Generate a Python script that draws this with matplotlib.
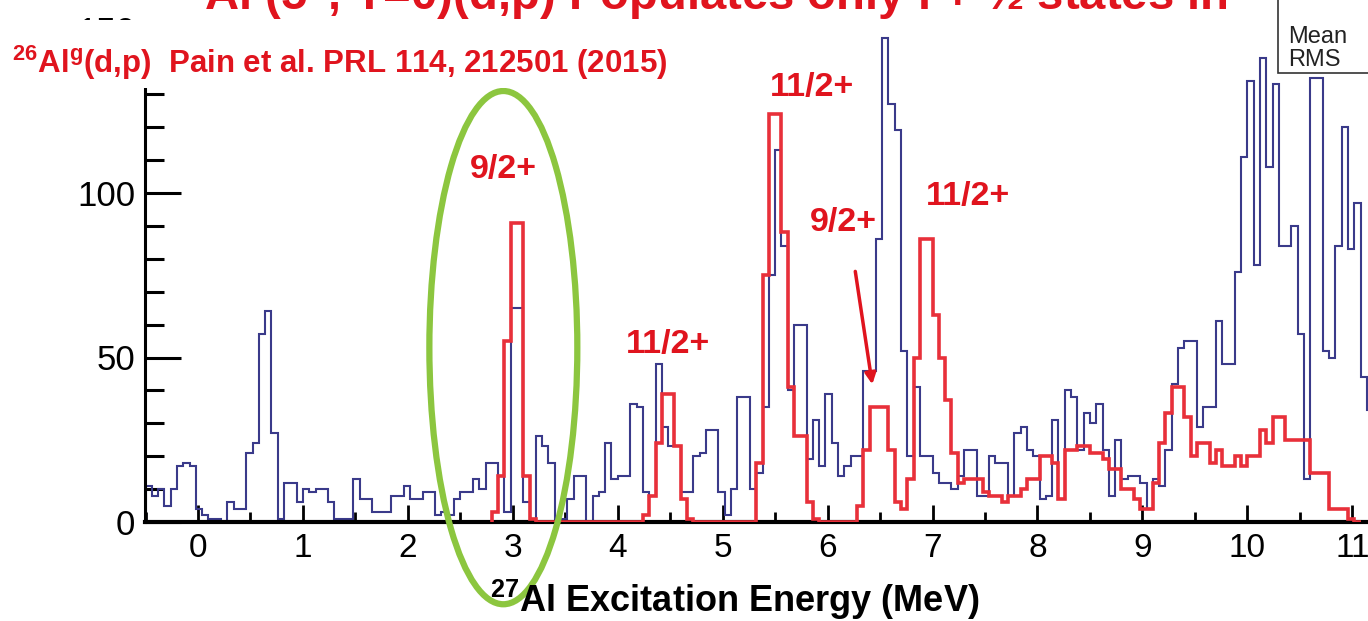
import numpy as np
import matplotlib.pyplot as plt
from matplotlib.patches import Ellipse, Rectangle
from matplotlib.ticker import MultipleLocator

# --- dati (conteggi per bin da 0.06 MeV) ---
bin_width = 0.06
blue_start = -0.5
blue_counts = [
    11, 8, 10, 5, 10, 17, 18, 17, 4, 2, 1, 1, 0, 6, 4, 4, 21, 24, 57, 64,
    27, 1, 12, 12, 6, 10, 9, 10, 10, 6, 1, 1, 1, 13, 7, 7, 3, 3, 3, 8,
    8, 11, 7, 7, 9, 9, 2, 3, 2, 7, 9, 9, 13, 10, 18, 18, 14, 3, 65, 65,
    6, 1, 26, 23, 18, 0, 1, 7, 14, 14, 0, 8, 9, 24, 13, 14, 14, 36, 35, 9,
    8, 48, 29, 23, 23, 9, 9, 20, 21, 28, 28, 9, 2, 10, 38, 38, 10, 15, 35, 75,
    113, 84, 40, 60, 60, 19, 31, 17, 39, 24, 14, 17, 20, 20, 46, 46, 86, 147, 127, 119,
    52, 20, 41, 20, 20, 15, 12, 12, 10, 14, 22, 22, 8, 8, 20, 18, 18, 8, 27, 29,
    22, 20, 7, 8, 31, 7, 40, 38, 22, 33, 30, 36, 22, 8, 25, 13, 14, 14, 12, 4,
    13, 11, 22, 42, 53, 55, 55, 29, 35, 35, 61, 48, 48, 76, 111, 134, 78, 141, 108, 133,
    84, 84, 90, 57, 13, 135, 135, 52, 50, 84, 120, 83, 97, 44, 34,
]

red_start = 2.80
red_counts = [
    3, 14, 55, 91, 91, 14, 1, 0, 0, 0, 0, 0, 0, 0, 0, 0, 0, 0, 0, 0,
    0, 0, 0, 0, 2, 8, 24, 39, 39, 23, 7, 1, 0, 0, 0, 0, 0, 0, 0, 0,
    0, 0, 18, 75, 124, 124, 88, 41, 26, 26, 6, 1, 0, 0, 0, 0, 0, 0, 5, 22,
    35, 35, 35, 22, 6, 4, 13, 50, 86, 86, 63, 50, 37, 21, 12, 13, 13, 13, 9, 8,
    8, 6, 8, 8, 10, 13, 13, 20, 20, 18, 7, 22, 22, 23, 23, 21, 21, 19, 16, 16,
    10, 10, 7, 4, 4, 12, 24, 33, 41, 41, 32, 20, 24, 24, 18, 22, 17, 17, 20, 17,
    20, 20, 28, 24, 32, 32, 25, 25, 25, 25, 15, 15, 15, 4, 4, 4, 1, 0,
]

# etichette degli stati (energia MeV, conteggi)
state_labels = ['9/2+', '11/2+', '11/2+', '9/2+', '11/2+']
state_x = [2.91, 5.85, 4.48, 6.15, 7.34]
state_y = [107, 132, 54, 91, 99]

x_ticks = list(range(0, 12))
y_ticks = [0, 50, 100, 150]

BLU = '#3a3a8a'
ROSSO = '#e8303a'
ROSSO_TXT = '#e0141e'
VERDE = '#8cc63f'
FONT = ['Liberation Sans Narrow', 'Liberation Sans', 'DejaVu Sans']

plt.rcParams['font.family'] = FONT
plt.rcParams['mathtext.fontset'] = 'custom'
plt.rcParams['mathtext.rm'] = 'Liberation Sans'
plt.rcParams['mathtext.bf'] = 'Liberation Sans:bold'
plt.rcParams['mathtext.it'] = 'Liberation Sans:italic'

W, H = 1368, 621
fig = plt.figure(figsize=(W / 100, H / 100), dpi=100)
ax = fig.add_axes([145 / W, 1 - 522 / H, (W - 145) / W, (522 - 28.5) / H])

blue_edges = blue_start + bin_width * np.arange(len(blue_counts) + 1)
red_edges = red_start + bin_width * np.arange(len(red_counts) + 1)
ax.stairs(blue_counts, blue_edges, color=BLU, lw=1.5, zorder=2)
ax.stairs(red_counts, red_edges, color=ROSSO, lw=2.6, zorder=3)

ax.set_xlim(-0.505, 11.15)
ax.set_ylim(0, 150)

for s in ['top', 'right']:
    ax.spines[s].set_visible(False)
ax.spines['bottom'].set_linewidth(3)
ax.spines['left'].set_linewidth(2.2)

ax.set_xticks(x_ticks)
ax.xaxis.set_minor_locator(MultipleLocator(0.5))
ax.set_yticks(y_ticks)
ax.yaxis.set_minor_locator(MultipleLocator(10))
ax.tick_params(axis='x', which='major', direction='in', length=12, width=2, labelsize=24, pad=8)
ax.tick_params(axis='x', which='minor', direction='in', length=7, width=2)
ax.tick_params(axis='y', which='major', direction='in', length=26, width=2.2, labelsize=25, pad=7)
ax.tick_params(axis='y', which='minor', direction='in', length=14, width=2.2)

# ellisse verde attorno allo stato 9/2+ a 3 MeV
ax.add_patch(Ellipse((2.91, 53), width=1.41, height=156, fill=False,
                     ec=VERDE, lw=4.5, clip_on=False, zorder=6))

for lab, x, y in zip(state_labels, state_x, state_y):
    ax.text(x, y, lab, color=ROSSO_TXT, fontsize=24.5, fontweight='bold',
            ha='center', va='center', zorder=5)

ax.annotate('', xy=(6.43, 41), xytext=(6.26, 77),
            arrowprops=dict(arrowstyle='-|>', color=ROSSO_TXT, lw=2.5, mutation_scale=16),
            zorder=5)

# titolo (tagliato in alto come nello screenshot)
fig.text(0.545, 1 - 10 / H,
         r'$^{\mathbf{26}}$Al (5$^{\mathbf{+}}$, T=0)(d,p) Populates only l + ½ states in $^{\mathbf{27}}$Al',
         color=ROSSO_TXT, fontsize=34, fontweight='bold', ha='center', va='baseline')

# fascia bianca sopra l'asse y con il riferimento
fig.patches.append(Rectangle((0, 1 - 88 / H), 680 / W, 68 / H, transform=fig.transFigure,
                             fc='white', ec='none', zorder=9))
fig.text(12 / W, 1 - 63 / H, r'$^{\mathbf{26}}$Al$^{\mathbf{g}}$(d,p)  Pain et al. PRL 114, 212501 (2015)',
         color=ROSSO_TXT, fontsize=22.5, fontweight='bold', ha='left', va='center', zorder=10)

# box statistiche ROOT
fig.patches.append(Rectangle((1278 / W, 1 - 73 / H), 0.2, 0.2, transform=fig.transFigure,
                             fc='white', ec='#333333', lw=1.2, zorder=10))
fig.text(1288 / W, 1 - 37 / H, 'Mean', fontsize=17, color='#222222', va='center', zorder=11)
fig.text(1288 / W, 1 - 60 / H, 'RMS', fontsize=17, color='#222222', va='center', zorder=11)

fig.text(735 / W, 1 - 600 / H, r'$^{\mathbf{27}}$Al Excitation Energy (MeV)', fontsize=26,
         fontweight='bold', ha='center', va='center')

plt.savefig('out.png', dpi=100)
